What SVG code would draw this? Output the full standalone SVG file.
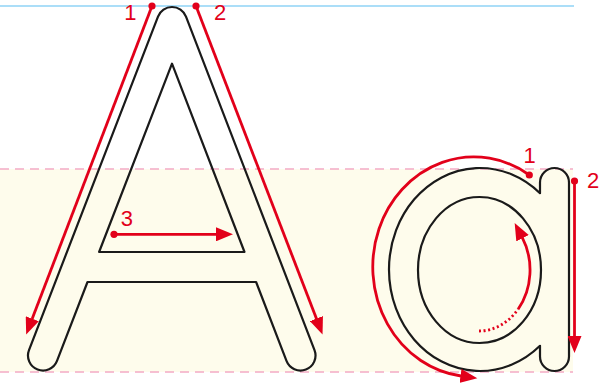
<svg xmlns="http://www.w3.org/2000/svg" width="601" height="390" viewBox="0 0 601 390">
<style>
.outline{fill:none;stroke:#1a1a1a;stroke-width:2.2;stroke-linejoin:round}
.stroke{fill:none;stroke:#e2001a;stroke-width:2.8}
.dot{fill:#e2001a}
.lbl{font-family:"Liberation Sans",Arial,sans-serif;font-size:22px;fill:#e2001a}
.dash{stroke:#f3aac5;stroke-width:1.5;stroke-dasharray:9 6}
</style>
<defs>
<marker id="ah" markerUnits="userSpaceOnUse" markerWidth="18" markerHeight="14" refX="0.5" refY="7" orient="auto">
<path d="M0,0 L17,7 L0,14 Z" fill="#e2001a"/>
</marker>
</defs>
<rect width="601" height="390" fill="#ffffff"/>
<g id="guides">
<rect x="0" y="169" width="573" height="203" fill="#fefcec"/>
<line x1="0" y1="6" x2="574" y2="6" stroke="#8fd3f6" stroke-width="1.5"/>
<line class="dash" x1="0" y1="169" x2="573" y2="169"/>
<line class="dash" x1="0" y1="372" x2="573" y2="372"/>
</g>
<g id="letter-A">
<path class="outline" d="M29,350.1 L158,16.6 A15 15 0 0 1 186,16.6 L314.5,350.1 A15 15 0 0 1 286.5,360.9 L256.1,282 L87.5,282 L57,360.9 A15 15 0 0 1 29,350.1 Z"/>
<path class="outline" d="M172,63.7 L244.5,252 L99.1,252 Z"/>
</g>
<g id="letter-a">
<path class="outline" d="M540,193.2 A91 101.5 0 1 0 540,345.8 L540,356.5 A14.5 14.5 0 0 0 569,356.5 L569,182.5 A14.5 14.5 0 0 0 540,182.5 Z"/>
<ellipse class="outline" cx="479.5" cy="270" rx="61.5" ry="73"/>
</g>
<g id="connectors">
<line class="stroke" x1="152" y1="6" x2="32.1" y2="319.1" marker-end="url(#ah)"/>
<circle class="dot" cx="152" cy="6" r="3.6"/>
<line class="stroke" x1="196" y1="6" x2="316.6" y2="319.1" marker-end="url(#ah)"/>
<circle class="dot" cx="196" cy="6" r="3.6"/>
<line class="stroke" x1="114" y1="234.3" x2="216.5" y2="234.3" marker-end="url(#ah)"/>
<circle class="dot" cx="114" cy="234.3" r="3.6"/>
<path class="stroke" d="M529.3,175 A101 110 0 1 0 461,376" marker-end="url(#ah)"/>
<circle class="dot" cx="529.3" cy="175" r="3.6"/>
<line class="stroke" x1="574.5" y1="181" x2="574.5" y2="336.5" marker-end="url(#ah)"/>
<circle class="dot" cx="574.5" cy="181" r="3.6"/>
<path class="stroke" d="M479,331 A51 61 0 0 0 518.1,309.2" stroke-dasharray="2 2.6"/>
<path class="stroke" d="M518.1,309.2 A51 61 0 0 0 522.3,237.7" marker-end="url(#ah)"/>
</g>
<g id="labels">
<text class="lbl" x="124.3" y="19.5">1</text>
<text class="lbl" x="214" y="19.5">2</text>
<text class="lbl" x="120.8" y="225.7">3</text>
<text class="lbl" x="523.5" y="163">1</text>
<text class="lbl" x="587" y="188">2</text>
</g>
</svg>
